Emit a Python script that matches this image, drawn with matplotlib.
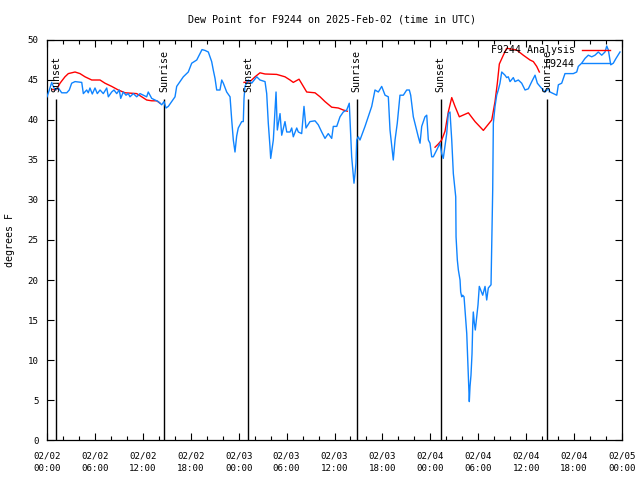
import matplotlib
matplotlib.use('Agg')
import matplotlib.pyplot as plt
from matplotlib.lines import Line2D

nan = float('nan')

# Observed dew point (F9244), hours since 2025-02-02 00:00 UTC
obs_hours = [
    0.00, 0.29, 0.59, 0.79, 1.00, 1.42, 1.84, 2.47, 2.79, 3.09, 3.51, 4.35, 4.55, 4.97, 5.17,
    5.38, 5.67, 6.01, 6.30, 6.64, 7.05, 7.48, 7.68, 8.10, 8.39, 8.73, 9.05, 9.23, 9.55, 9.89,
    10.18, 10.39, 10.81, 11.23, 11.65, 12.06, 12.48, 12.68, 13.11, 13.52, 13.94, 14.36, 14.65,
    14.90, 15.19, 15.61, 16.03, 16.24, 17.07, 17.69, 18.12, 18.75, 19.16, 19.41, 19.78, 20.20,
    20.62, 20.82, 21.04, 21.25, 21.66, 21.88, 22.08, 22.50, 22.92, 23.13, 23.33, 23.54, 23.75,
    23.95, 24.38, 24.58, 24.67, 24.79, 25.21, 25.63, 26.26, 26.67, 27.30, 27.51, 27.71, 27.92,
    28.01, 28.34, 28.68, 28.84, 29.18, 29.39, 29.80, 30.02, 30.43, 30.64, 30.84, 31.27, 31.47,
    31.89, 32.18, 32.43, 32.93, 33.56, 33.97, 34.40, 34.81, 35.22, 35.65, 35.85, 36.28, 36.69,
    37.10, 37.53, 37.85, 38.03, 38.15, 38.36, 38.44, 38.57, 38.69, 38.78, 38.98, 39.19, 39.41,
    39.82, 40.23, 40.66, 41.07, 41.49, 41.91, 42.33, 42.74, 42.95, 43.36, 43.58, 43.86, 44.20,
    44.62, 45.04, 45.37, 45.54, 45.87, 46.49, 46.71, 46.92, 47.33, 47.55, 47.75, 47.96, 48.17,
    48.37, 48.80, 49.21, 49.42, 49.62, 50.05, 50.25, 50.46, 50.68, 50.88, 51.09, 51.18, 51.22,
    51.38, 51.51, 51.72, 51.80, 51.93, 52.05, 52.22, 52.34, 52.56, 52.68, 52.81, 52.88, 52.97,
    53.09, 53.22, 53.31, 53.38, 53.51, 53.63, 53.81, 53.97, 54.13, 54.31, 54.56, 54.85, 55.06,
    55.26, 55.60, 55.69, 55.81, 55.89, 56.10, 56.31, 56.51, 56.72, 56.94, 57.35, 57.56, 57.76,
    57.98, 58.39, 58.60, 59.02, 59.44, 59.86, 60.27, 60.70, 61.11, 61.40, 61.73, 62.36, 62.77,
    62.99, 63.40, 63.83, 64.03, 64.45, 64.86, 65.49, 65.90, 66.33, 66.53, 66.95, 67.37, 67.78,
    68.21, 68.62, 69.03, 69.46, 69.87, 70.09, 70.29, 70.59, 70.91, 71.25, 71.75]
obs_dewpt = [
    42.9, 43.75, 44.7, 44.2, 43.75, 44.0, 43.4, 43.4, 43.75, 44.6, 44.8, 44.7, 43.3, 43.75, 43.4,
    44.0, 43.25, 44.0, 43.3, 43.75, 43.3, 44.0, 42.9, 43.5, 43.75, 43.3, 43.75, 42.7, 43.5, 43.1,
    43.3, 42.9, 43.3, 42.9, 43.3, 43.1, 42.9, 43.5, 42.7, 42.5, 42.3, 41.9, 42.3,
    41.5, 41.7, 42.3, 42.9, 44.2, 45.4, 46.0, 47.1, 47.5, 48.3, 48.8, 48.7, 48.5,
    47.3, 46.25, 45.2, 43.75, 43.75, 45.0, 44.6, 43.5, 42.9, 40.0, 37.5, 36.0, 38.0,
    39.0, 39.8, 39.8, 42.7, 44.2, 45.0, 44.6, 45.4, 45.0, 44.8, 43.3, 39.6, 36.7,
    35.2, 37.5, 43.5, 38.75, 40.8, 38.1, 39.8, 38.5, 38.5, 39.0, 37.9, 39.0, 38.5,
    38.3, 41.7, 39.0, 39.8, 39.9, 39.4, 38.5, 37.7, 38.3, 37.7, 39.2, 39.2, 40.4,
    41.0, 41.25, 42.1, 37.9, 35.4, 32.9, 32.1, 33.3, 34.6, 37.5, 37.9, 37.5, 38.1,
    39.2, 40.4, 41.7, 43.75, 43.5, 44.2, 43.1, 42.9, 38.75, 35.0, 37.5, 39.6, 43.1,
    43.1, 43.75, 43.75, 43.1, 40.4, 37.9, 37.1, 39.2, 40.4, 40.6, 37.5, 37.1, 35.4,
    35.4, 36.25, 37.1, 35.8, 35.2, 38.3, 40.8, 41.0, 37.5, 33.3, 31.25, 30.4, 25.4,
    22.5, 21.25, 20.0, 18.5, 17.9, 18.1, 17.9, 16.25, 13.3, 10.2, 6.7, 4.8, 6.7,
    8.1, 10.8, 14.4, 16.0, 14.6, 13.75, 15.4, 16.9, 19.2, 18.75, 18.1, 19.2, 17.5,
    19.0, 19.4, 24.6, 31.25, 39.6, 41.7, 43.1, 43.75, 44.6, 46.0, 45.6, 45.3, 45.4,
    44.8, 45.3, 44.8, 45.0, 44.6, 43.75, 43.9, 44.8, 45.6, 44.6, 44.2, 43.5, 43.9,
    43.5, 43.3, 43.1, 44.4, 44.6, 45.8, 45.8, 45.8, 46.0, 46.7, 47.1, 47.7, 48.1,
    47.9, 48.1, 48.5, 48.1, 48.5, 49.25, 48.75, 46.9, 47.1, 47.7, 48.5]

# Analysis dew point (F9244 Analysis)
ana_hours = [
    0.71, 1.21, 1.63, 2.25, 2.67, 3.51, 4.13, 4.76, 5.60, 6.64, 7.26, 8.10, 8.93, 9.77, 11.23,
    11.86, 12.48, 13.11, 13.74, 14.15, nan,
    24.67, 25.42, 26.05, 26.67, 27.30, 28.76, 29.80, 30.43, 30.84, 31.56, 32.52, 33.56, 34.19,
    34.81, 35.65, 36.48, 37.10, 37.60, nan,
    48.59, 49.00, 49.42, 49.84, 50.25, 50.68, 51.09, 51.63, 52.76, 53.60, 54.64, 55.69, 56.10,
    56.39, 56.64, 57.14, 57.56, 57.98, 58.81, 59.64, 60.48, 60.90, 61.32, 61.65]
ana_dewpt = [
    43.8, 43.8, 44.6, 45.4, 45.8, 46.0, 45.8, 45.4, 45.0, 45.0, 44.6, 44.2, 43.75, 43.4, 43.3,
    42.9, 42.5, 42.4, 42.4, 42.1, nan,
    44.7, 44.8, 45.4, 45.9, 45.75, 45.7, 45.4, 45.0, 44.7, 45.1, 43.5, 43.4, 42.9,
    42.3, 41.6, 41.5, 41.25, 41.1, nan,
    36.6, 37.0, 37.5, 38.6, 41.0, 42.8, 41.7, 40.4, 40.9, 39.8, 38.7, 40.0, 42.3,
    44.6, 47.0, 48.1, 48.96, 48.9, 48.75, 48.1, 47.5, 47.3, 46.7, 46.0]

sun_hours = [1.13, 14.69, 25.2, 38.78, 49.3, 62.65]
sun_labels = ['Sunset', 'Sunrise', 'Sunset', 'Sunrise', 'Sunset', 'Sunrise']
sun_line_top = 42.6
sun_label_base = 43.5

xtick_hours = list(range(0, 73, 6))
xtick_labels = ['02/02\n00:00', '02/02\n06:00', '02/02\n12:00', '02/02\n18:00',
                '02/03\n00:00', '02/03\n06:00', '02/03\n12:00', '02/03\n18:00',
                '02/04\n00:00', '02/04\n06:00', '02/04\n12:00', '02/04\n18:00',
                '02/05\n00:00']
xminor_hours = list(range(0, 73, 2))
ytick_values = list(range(0, 51, 5))

plt.rcParams['font.family'] = ['DejaVu Sans Mono']

BLUE = '#0f84ff'
RED = '#ff0000'

fig = plt.figure(figsize=(6.4, 4.8), dpi=100)
ax = fig.add_axes([47 / 640, 40 / 480, 575 / 640, 400 / 480])

ax.plot(ana_hours, ana_dewpt, color=RED, lw=1.0, zorder=3)
ax.plot(obs_hours, obs_dewpt, color=BLUE, lw=1.0, zorder=4)

ax.vlines(sun_hours, 0, sun_line_top, colors='black', lw=1.0, zorder=2)
for h, lab in zip(sun_hours, sun_labels):
    ax.text(h, sun_label_base, lab, rotation=90, ha='center', va='bottom',
            fontsize=7.2, color='black', zorder=5)

ax.set_xlim(0, 72)
ax.set_ylim(0, 50)
ax.set_xticks(xtick_hours)
ax.set_xticklabels(xtick_labels, fontsize=6.6, linespacing=1.55)
ax.set_xticks(xminor_hours, minor=True)
ax.set_yticks(ytick_values)
ax.set_yticklabels([str(v) for v in ytick_values], fontsize=6.6)
ax.tick_params(which='major', direction='in', top=True, right=True, length=5, width=0.8)
ax.tick_params(which='minor', direction='in', top=True, right=True, length=3, width=0.8)
ax.tick_params(axis='x', which='major', pad=8)
ax.tick_params(axis='y', which='major', pad=6)
for s in ax.spines.values():
    s.set_linewidth(0.9)

fig.text(10 / 640, 0.5, 'degrees F', rotation=90, ha='center', va='center', fontsize=7.2)
fig.text(332 / 640, 1 - 19 / 480, 'Dew Point for F9244 on 2025-Feb-02 (time in UTC)',
         ha='center', va='center', fontsize=7.2)

handles = [Line2D([], [], color=RED, lw=1.0), Line2D([], [], color=BLUE, lw=1.0)]
ax.legend(handles, ['F9244 Analysis', 'F9244'], loc='upper right',
          bbox_to_anchor=((610 - 47) / 575, (440 - 45.5) / 400), borderaxespad=0,
          borderpad=0, frameon=False, markerfirst=False, fontsize=7.2,
          handlelength=2.8, handletextpad=0.7, labelspacing=0.35)

fig.savefig('out.png', dpi=100)
